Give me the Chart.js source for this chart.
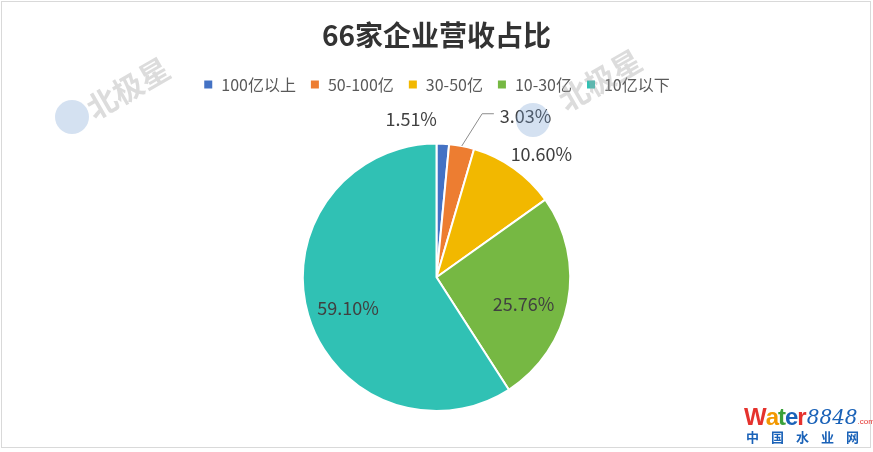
<!DOCTYPE html>
<html>
<head>
<meta charset="utf-8">
<script src="https://cdn.jsdelivr.net/npm/chart.js@4.4.1/dist/chart.umd.min.js"></script>
<style>
  html, body { margin: 0; padding: 0; background: #fff; }
  #wrap { position: relative; width: 873px; height: 452px; }
</style>
</head>
<body>
<div id="wrap"><canvas id="pieChart" width="873" height="452"></canvas></div>
<script>
// --- data ---
const chartTitle = '66家企业营收占比';
const categories = ['100亿以上', '50-100亿', '30-50亿', '10-30亿', '10亿以下'];
const shares = [1.51, 3.03, 10.60, 25.76, 59.10];
const sliceColors = ['#4472C4', '#ED7D31', '#F2B800', '#76B843', '#30C1B4'];

const FONT = '"Noto Sans CJK SC", "Noto Sans", sans-serif';

// labels around the pie (Excel "best fit" style)
const sliceLabels = {
  id: 'sliceLabels',
  afterDatasetsDraw(chart, args, opts) {
    const ctx = chart.ctx;
    const meta = chart.getDatasetMeta(0);
    ctx.save();
    ctx.font = '18px ' + FONT;
    ctx.fillStyle = '#404040';
    ctx.textAlign = 'center';
    ctx.textBaseline = 'middle';
    meta.data.forEach(function(arc, i) {
      const p = arc.getProps(['x', 'y', 'startAngle', 'endAngle', 'outerRadius'], true);
      const mid = (p.startAngle + p.endAngle) / 2;
      const a = mid + opts.shift[i] * Math.PI / 180;
      const r = p.outerRadius * opts.radius[i];
      const lx = p.x + Math.cos(a) * r;
      const ly = p.y + Math.sin(a) * r;
      const txt = shares[i].toFixed(2) + '%';
      if (opts.leader[i]) {
        // leader line: slice edge -> elbow -> horizontal to text
        const e = opts.leader[i];
        const ea = mid + e.shift * Math.PI / 180;
        const ex = p.x + Math.cos(ea) * p.outerRadius * e.radius;
        const ey = p.y + Math.sin(ea) * p.outerRadius * e.radius;
        ctx.beginPath();
        ctx.strokeStyle = '#8c8c8c';
        ctx.lineWidth = 1;
        ctx.moveTo(p.x + Math.cos(mid) * p.outerRadius, p.y + Math.sin(mid) * p.outerRadius);
        ctx.lineTo(ex, ey);
        ctx.lineTo(lx - ctx.measureText(txt).width / 2 - 6, ey);
        ctx.stroke();
      }
      ctx.fillText(txt, lx, ly);
    });
    ctx.restore();
  }
};

// frame + watermarks
const decorations = {
  id: 'decorations',
  beforeInit(chart) {
    // extra room under the legend
    const fit = chart.legend.fit;
    chart.legend.fit = function() {
      fit.call(chart.legend);
      this.height += 40;
    };
  },
  afterDraw(chart) {
    const ctx = chart.ctx;
    ctx.save();
    ctx.strokeStyle = '#d9d9d9';
    ctx.lineWidth = 1;
    ctx.strokeRect(1.5, 1.5, 869, 446);

    // 北极星 watermarks
    [[72, 117, 128, 88], [533, 120, 600, 80]].forEach(function(w) {
      ctx.globalAlpha = 0.3;
      ctx.fillStyle = '#6f9bd1';
      ctx.beginPath();
      ctx.arc(w[0], w[1], 17, 0, Math.PI * 2);
      ctx.fill();
      ctx.globalAlpha = 0.4;
      ctx.fillStyle = '#a8a8a8';
      ctx.translate(w[2], w[3]);
      ctx.rotate(-Math.PI / 6);
      ctx.font = 'bold 30px ' + FONT;
      ctx.textAlign = 'center';
      ctx.textBaseline = 'middle';
      ctx.fillText('北极星', 0, 0);
      ctx.setTransform(1, 0, 0, 1, 0, 0);
    });
    ctx.globalAlpha = 1;

    // water8848 logo
    ctx.textBaseline = 'alphabetic';
    ctx.textAlign = 'left';
    ctx.font = 'bold 24px "Liberation Sans", sans-serif';
    let x = 744;
    [['W', '#e5322d'], ['a', '#f39800'], ['t', '#3aa13a'], ['e', '#1a62b8'], ['r', '#e5322d']].forEach(function(c) {
      ctx.fillStyle = c[1];
      ctx.fillText(c[0], x, 425);
      x += ctx.measureText(c[0]).width - 1;
    });
    ctx.font = 'italic 20px "DejaVu Serif", serif';
    ctx.fillStyle = '#1a62b8';
    ctx.fillText('8848', x + 1, 424);
    x += ctx.measureText('8848').width + 1;
    ctx.font = '8px "Liberation Sans", sans-serif';
    ctx.fillStyle = '#e5322d';
    ctx.fillText('.com', x, 424);
    ctx.font = 'bold 13px ' + FONT;
    ctx.fillStyle = '#1a62b8';
    ['中', '国', '水', '业', '网'].forEach(function(ch, i) {
      ctx.fillText(ch, 746 + i * 25, 442);
    });
    ctx.restore();
  }
};

new Chart(document.getElementById('pieChart'), {
  type: 'pie',
  data: {
    labels: categories,
    datasets: [{
      data: shares,
      backgroundColor: sliceColors,
      borderColor: '#ffffff',
      borderWidth: 2
    }]
  },
  options: {
    responsive: false,
    animation: false,
    layout: { padding: { top: 0, bottom: 40 } },
    plugins: {
      title: {
        display: true,
        text: chartTitle,
        color: '#333333',
        font: { family: FONT, size: 28, weight: 'bold' },
        padding: { top: 19, bottom: 10 }
      },
      legend: {
        position: 'top',
        labels: {
          color: '#595959',
          font: { family: FONT, size: 16 },
          boxWidth: 10,
          boxHeight: 10,
          padding: 14
        }
      },
      tooltip: { enabled: false },
      sliceLabels: {
        radius: [1.2, 1.38, 1.21, 0.68, 0.70],
        shift: [-11.8, 18, 5, 6, -2.6],
        leader: [null, { radius: 1.27, shift: 4.7 }, null, null, null]
      }
    }
  },
  plugins: [sliceLabels, decorations]
});
</script>
</body>
</html>
